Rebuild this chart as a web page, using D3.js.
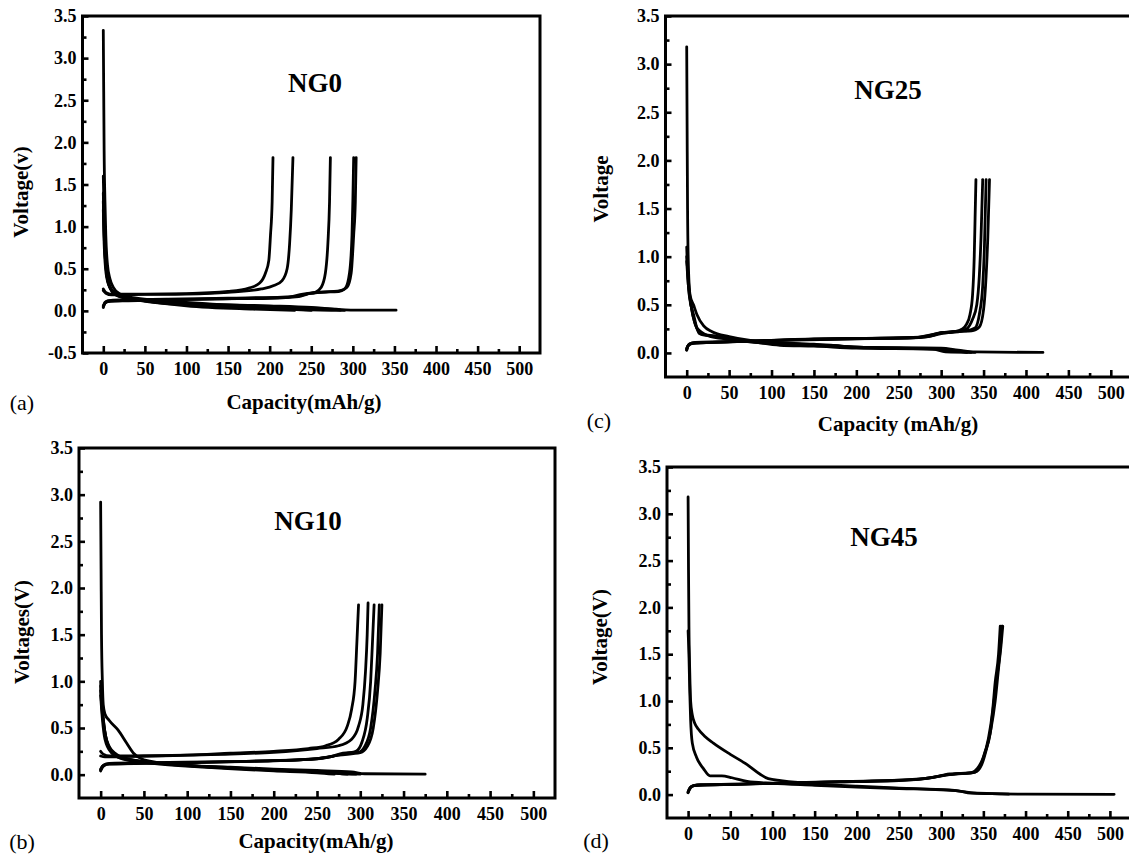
<!DOCTYPE html>
<html><head><meta charset="utf-8">
<script src="https://cdn.jsdelivr.net/npm/d3@7"></script>
<style>
html,body{margin:0;padding:0;background:#fff;}
svg{display:block;}
svg text{font-family:"Liberation Serif","Times New Roman","Nimbus Roman","DejaVu Serif",serif !important;fill:#000;}
</style></head>
<body>
<svg id="chart" width="1129" height="858"></svg>
<script>
// ---------------- DATA ----------------
const xMajorTicks = [0,50,100,150,200,250,300,350,400,450,500];
const xMinorTicks = [25,75,125,175,225,275,325,375,425,475];
const yMajorTicksA = [-0.5,0.0,0.5,1.0,1.5,2.0,2.5,3.0,3.5];
const yMajorTicks = [0.0,0.5,1.0,1.5,2.0,2.5,3.0,3.5];
const yMinorTicksA = [-0.25,0.25,0.75,1.25,1.75,2.25,2.75,3.25];
const yMinorTicks = [0.25,0.75,1.25,1.75,2.25,2.75,3.25];
const yTickLabelsA = ["-0.5","0.0","0.5","1.0","1.5","2.0","2.5","3.0","3.5"];
const yTickLabels = ["0.0","0.5","1.0","1.5","2.0","2.5","3.0","3.5"];
const panelNames = ["NG0","NG10","NG25","NG45"];
const panelLetters = ["(a)","(b)","(c)","(d)"];
const yTitles = ["Voltage(v)","Voltages(V)","Voltage","Voltage(V)"];
const xTitles = ["Capacity(mAh/g)","Capacity(mAh/g)","Capacity (mAh/g)",""];

// NG0 : discharge + charge curves [capacity mAh/g, voltage V]
const ng0Curves = [
  [[0,3.33],[0.5,2.6],[1,1.9],[2,1.3],[3,0.9],[5,0.55],[8,0.38],[12,0.28],[20,0.2],[40,0.15],[70,0.12],[100,0.1],[150,0.07],[200,0.05],[250,0.035],[280,0.02],[300,0.01],[352,0.008]],
  [[0,1.6],[1,1.1],[3,0.6],[6,0.35],[12,0.22],[25,0.16],[50,0.13],[100,0.09],[150,0.06],[200,0.03],[240,0.015],[290,0.005]],
  [[0,1.4],[1,0.95],[3,0.55],[7,0.3],[15,0.2],[30,0.15],[60,0.11],[120,0.08],[200,0.06],[250,0.04],[275,0.02],[285,0.01]],
  [[0,1.3],[1,0.9],[4,0.45],[8,0.28],[15,0.19],[40,0.13],[100,0.07],[160,0.04],[220,0.02],[250,0.005]],
  [[0,1.2],[1,0.8],[4,0.4],[10,0.24],[20,0.17],[50,0.12],[100,0.06],[180,0.02],[230,0.005]],
  [[0,0.26],[3,0.22],[10,0.2],[50,0.2],[100,0.205],[150,0.23],[175,0.27],[188,0.33],[195,0.45],[199,0.6],[201,0.9],[203,1.3],[204,1.82]],
  [[0,0.24],[3,0.21],[10,0.19],[50,0.195],[100,0.2],[150,0.22],[190,0.26],[205,0.3],[215,0.36],[221,0.5],[224,0.8],[226,1.2],[228,1.82]],
  [[0,0.05],[2,0.1],[5,0.12],[20,0.13],[100,0.14],[200,0.15],[235,0.17],[245,0.2],[255,0.22],[262,0.28],[267,0.45],[270,0.8],[272,1.3],[273,1.82]],
  [[0,0.04],[2,0.09],[6,0.11],[30,0.12],[120,0.14],[220,0.16],[240,0.2],[260,0.22],[283,0.23],[291,0.27],[296,0.45],[299,0.9],[300,1.3],[301,1.82]],
  [[0,0.06],[3,0.1],[8,0.12],[50,0.13],[150,0.15],[230,0.17],[250,0.21],[285,0.24],[293,0.28],[298,0.45],[301,0.9],[303,1.3],[304,1.82]]
];

// NG10
const ng10Curves = [
  [[0,2.92],[0.5,2.2],[1,1.5],[2,1.0],[3,0.75],[5,0.65],[10,0.58],[20,0.48],[30,0.34],[38,0.23],[45,0.18],[60,0.14],[100,0.1],[150,0.08],[200,0.06],[250,0.045],[290,0.03],[305,0.01],[375,0.005]],
  [[0,1.0],[1,0.8],[3,0.6],[6,0.4],[12,0.25],[20,0.19],[40,0.15],[80,0.11],[150,0.07],[200,0.05],[260,0.03],[290,0.01],[300,0.005]],
  [[0,0.95],[2,0.7],[5,0.45],[10,0.3],[18,0.22],[35,0.16],[70,0.12],[130,0.08],[200,0.05],[250,0.03],[280,0.01],[295,0.005]],
  [[0,0.9],[2,0.65],[6,0.4],[12,0.26],[25,0.18],[50,0.14],[100,0.1],[160,0.07],[220,0.04],[265,0.02],[285,0.005]],
  [[0,0.85],[2,0.6],[5,0.38],[12,0.24],[25,0.17],[60,0.12],[120,0.08],[200,0.04],[250,0.02],[270,0.005]],
  [[0,0.25],[3,0.22],[10,0.2],[50,0.2],[100,0.21],[150,0.23],[200,0.25],[240,0.28],[260,0.31],[275,0.38],[285,0.52],[290,0.7],[294,1.0],[296,1.4],[298,1.82]],
  [[0,0.2],[5,0.19],[50,0.2],[100,0.21],[150,0.22],[200,0.24],[250,0.28],[275,0.31],[290,0.38],[298,0.52],[303,0.75],[306,1.1],[308,1.5],[309,1.84]],
  [[0,0.05],[2,0.09],[6,0.11],[40,0.12],[100,0.13],[200,0.15],[250,0.17],[270,0.2],[285,0.23],[295,0.25],[302,0.35],[308,0.6],[312,1.0],[314,1.4],[316,1.82]],
  [[0,0.06],[3,0.1],[10,0.12],[60,0.13],[150,0.14],[230,0.16],[265,0.19],[280,0.23],[298,0.24],[305,0.3],[312,0.5],[317,0.9],[320,1.3],[322,1.82]],
  [[0,0.04],[3,0.09],[10,0.115],[80,0.125],[180,0.145],[250,0.17],[275,0.21],[300,0.235],[308,0.3],[315,0.5],[320,0.9],[323,1.3],[325,1.82]]
];

// NG25
const ng25Curves = [
  [[0,3.18],[0.5,2.3],[1,1.5],[2,0.9],[4,0.6],[8,0.5],[12,0.4],[20,0.28],[30,0.22],[50,0.17],[75,0.13],[100,0.11],[150,0.09],[180,0.07],[200,0.06],[300,0.05],[320,0.03],[340,0.01],[420,0.005]],
  [[0,1.1],[1,0.85],[3,0.6],[8,0.4],[15,0.2],[30,0.18],[50,0.15],[75,0.12],[110,0.08],[150,0.07],[200,0.05],[290,0.04],[305,0.01],[340,0.005]],
  [[0,1.0],[2,0.75],[5,0.5],[10,0.3],[18,0.19],[35,0.17],[60,0.13],[100,0.1],[170,0.08],[200,0.06],[300,0.04],[320,0.02],[335,0.005]],
  [[0,0.95],[2,0.7],[6,0.45],[12,0.26],[25,0.18],[50,0.14],[80,0.11],[130,0.09],[200,0.06],[310,0.03],[330,0.005]],
  [[0,0.03],[2,0.08],[6,0.1],[20,0.11],[50,0.115],[100,0.13],[150,0.145],[200,0.15],[260,0.155],[285,0.17],[300,0.2],[315,0.22],[325,0.25],[330,0.3],[334,0.4],[337,0.6],[339,1.0],[340,1.4],[341,1.8]],
  [[0,0.04],[3,0.09],[8,0.105],[30,0.11],[100,0.13],[160,0.145],[220,0.15],[270,0.16],[290,0.18],[300,0.21],[320,0.22],[330,0.25],[337,0.35],[342,0.5],[345,0.8],[347,1.2],[349,1.8]],
  [[0,0.05],[3,0.09],[10,0.11],[40,0.115],[120,0.135],[200,0.15],[270,0.16],[295,0.2],[315,0.22],[330,0.23],[340,0.26],[345,0.4],[349,0.7],[351,1.1],[353,1.8]],
  [[0,0.03],[2,0.08],[8,0.1],[30,0.11],[110,0.13],[210,0.15],[275,0.165],[300,0.21],[320,0.225],[336,0.23],[345,0.27],[350,0.45],[353,0.8],[355,1.2],[357,1.8]]
];

// NG45
const ng45Curves = [
  [[0,3.18],[0.5,2.4],[1,1.8],[2,1.3],[3,1.0],[5,0.85],[8,0.76],[12,0.7],[20,0.62],[30,0.55],[50,0.43],[70,0.32],[85,0.22],[95,0.17],[110,0.15],[130,0.13],[160,0.11],[200,0.09],[250,0.07],[300,0.05],[320,0.04],[335,0.015],[360,0.01],[400,0.005],[505,0.003]],
  [[0,1.75],[1,1.5],[2,1.1],[3,0.8],[5,0.55],[10,0.4],[18,0.28],[26,0.2],[40,0.2],[52,0.18],[70,0.14],[100,0.12],[150,0.1],[200,0.08],[250,0.065],[310,0.05],[335,0.02],[360,0.01],[380,0.005]],
  [[0,0.02],[2,0.06],[5,0.09],[10,0.1],[50,0.11],[100,0.12],[150,0.13],[200,0.14],[250,0.15],[280,0.17],[300,0.2],[310,0.22],[335,0.23],[343,0.28],[350,0.4],[356,0.6],[361,0.9],[364,1.2],[368,1.5],[370,1.8]],
  [[0,0.03],[2,0.07],[6,0.095],[12,0.1],[60,0.11],[120,0.125],[180,0.135],[240,0.15],[285,0.175],[305,0.21],[315,0.22],[338,0.235],[346,0.3],[352,0.45],[358,0.65],[362,0.95],[366,1.25],[370,1.55],[372,1.8]],
  [[0,0.025],[3,0.08],[7,0.095],[15,0.105],[70,0.115],[140,0.13],[210,0.145],[270,0.16],[300,0.2],[320,0.225],[340,0.24],[348,0.32],[354,0.5],[359,0.7],[364,1.0],[368,1.35],[371,1.6],[373,1.8]]
];

// ---------------- LAYOUT ----------------
const FONT = '"Liberation Serif","Times New Roman","Nimbus Roman","DejaVu Serif",serif';
const panels = [
  {curves: ng0Curves, xr:[82.5,540], yr:[353,16], yd:[-0.5,3.5], yMaj:yMajorTicksA, yMin:yMinorTicksA, yLab:yTickLabelsA,
   name:[315,92], yt:[28,192], xt:[304,409], letter:[22,410]},
  {curves: ng10Curves, xr:[79,555], yr:[798,448], yd:[-0.25,3.5], yMaj:yMajorTicks, yMin:yMinorTicks, yLab:yTickLabels,
   name:[308,530], yt:[29,632], xt:[316,848], letter:[22,849]},
  {curves: ng25Curves, xr:[665.5,1132], yr:[377,16], yd:[-0.25,3.5], yMaj:yMajorTicks, yMin:yMinorTicks, yLab:yTickLabels,
   name:[888,99], yt:[608,189], xt:[898,431], letter:[599,428]},
  {curves: ng45Curves, xr:[667,1131], yr:[818,467], yd:[-0.25,3.5], yMaj:yMajorTicks, yMin:yMinorTicks, yLab:yTickLabels,
   name:[884,546], yt:[607,637], xt:null, letter:[596,848]}
];

const svg = d3.select("#chart");

function styleText(sel, size, bold) {
  sel.style("font-family", FONT).style("font-size", size + "px")
     .style("font-weight", bold ? "bold" : "normal").attr("fill", "#000");
}

panels.forEach((p, i) => {
  const x = d3.scaleLinear().domain([-25,525]).range(p.xr);
  const y = d3.scaleLinear().domain(p.yd).range(p.yr);
  const g = svg.append("g");

  const clipId = "clip" + i;
  svg.append("clipPath").attr("id", clipId).append("rect")
    .attr("x", p.xr[0]).attr("y", p.yr[1])
    .attr("width", p.xr[1]-p.xr[0]).attr("height", p.yr[0]-p.yr[1]);

  // curves
  const line = d3.line().x(d => x(d[0])).y(d => y(d[1])).curve(d3.curveMonotoneX);
  g.append("g").attr("clip-path", `url(#${clipId})`)
    .selectAll("path").data(p.curves).join("path")
    .attr("d", line).attr("fill","none").attr("stroke","#000")
    .attr("stroke-width",2.8).attr("stroke-linejoin","round").attr("stroke-linecap","round");

  // bottom axis major
  const xb = g.append("g").attr("transform", `translate(0,${p.yr[0]})`)
    .call(d3.axisBottom(x).tickValues(xMajorTicks).tickSize(-7).tickPadding(9)
      .tickFormat(d => String(d)));
  xb.attr("font-family", null).attr("font-size", null);
  xb.select(".domain").remove();
  xb.selectAll("line").attr("stroke-width",2.6);
  styleText(xb.selectAll("text"), 18, true);
  const xm = g.append("g").attr("transform", `translate(0,${p.yr[0]})`)
    .call(d3.axisBottom(x).tickValues(xMinorTicks).tickSize(-4).tickFormat(""));
  xm.select(".domain").remove();
  xm.selectAll("line").attr("stroke-width",2.6);

  // left axis
  const yl = g.append("g").attr("transform", `translate(${p.xr[0]},0)`)
    .call(d3.axisLeft(y).tickValues(p.yMaj).tickSize(-6).tickPadding(6)
      .tickFormat((d, k) => p.yLab[k]));
  yl.attr("font-family", null).attr("font-size", null);
  yl.select(".domain").remove();
  yl.selectAll("line").attr("stroke-width",2.6);
  styleText(yl.selectAll("text"), 18, true);
  const ym = g.append("g").attr("transform", `translate(${p.xr[0]},0)`)
    .call(d3.axisLeft(y).tickValues(p.yMin).tickSize(-4).tickFormat(""));
  ym.select(".domain").remove();
  ym.selectAll("line").attr("stroke-width",2.6);

  // frame
  g.append("rect").attr("x", p.xr[0]).attr("y", p.yr[1])
    .attr("width", p.xr[1]-p.xr[0]).attr("height", p.yr[0]-p.yr[1])
    .attr("fill","none").attr("stroke","#000").attr("stroke-width",3);

  // texts
  styleText(g.append("text").attr("x", p.name[0]).attr("y", p.name[1]).attr("text-anchor","middle")
    .text(panelNames[i]), 27, true);
  styleText(g.append("text").attr("transform", `translate(${p.yt[0]},${p.yt[1]}) rotate(-90)`)
    .attr("text-anchor","middle").text(yTitles[i]), 21, true);
  if (p.xt) {
    styleText(g.append("text").attr("x", p.xt[0]).attr("y", p.xt[1]).attr("text-anchor","middle")
      .text(xTitles[i]), 21, true);
  }
  styleText(g.append("text").attr("x", p.letter[0]).attr("y", p.letter[1]).attr("text-anchor","middle")
    .text(panelLetters[i]), 22, false);
});
</script>
</body></html>
